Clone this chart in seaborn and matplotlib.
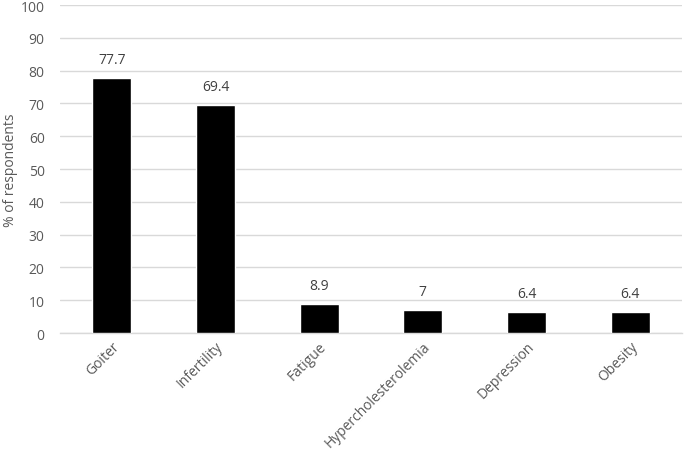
import pandas as pd
import numpy as np
import seaborn as sns
import matplotlib.pyplot as plt
from matplotlib.ticker import FixedLocator

# 数据
conditions = ['Goiter', 'Infertility', 'Fatigue', 'Hypercholesterolemia', 'Depression', 'Obesity']
percent = [77.7, 69.4, 8.9, 7, 6.4, 6.4]
value_labels = ['77.7', '69.4', '8.9', '7', '6.4', '6.4']
y_ticks = [0, 10, 20, 30, 40, 50, 60, 70, 80, 90, 100]

df = pd.DataFrame({'Condition': conditions, 'Percent': percent})

sns.set_style('white')
plt.rcParams['font.family'] = ['Open Sans', 'DejaVu Sans']
txt = '#595959'
grid = '#d9d9d9'
fs = 10

fig = plt.figure(figsize=(6.85, 4.56), dpi=100)
ax = fig.add_axes([0.0876, 0.2675, 0.908, 0.7193])

sns.barplot(data=df, x='Condition', y='Percent', color='black', width=0.375,
            saturation=1, ax=ax, zorder=3)

ax.set_ylim(0, 100)
ax.set_xlim(-0.5, len(conditions) - 0.5)
ax.set_yticks(y_ticks)
ax.yaxis.grid(True, color=grid, linewidth=1, zorder=0)
ax.set_axisbelow(True)

for p, lab in zip(ax.patches, value_labels):
    ax.annotate(lab, (p.get_x() + p.get_width() / 2, p.get_height()),
                xytext=(0, 8), textcoords='offset points', ha='center', va='bottom',
                fontsize=fs, color='#404040')

for s in ['left', 'right', 'top']:
    ax.spines[s].set_visible(False)
ax.spines['bottom'].set_color(grid)
ax.spines['bottom'].set_linewidth(1)

ax.tick_params(axis='y', length=0, labelsize=fs, labelcolor=txt, pad=11)
ax.tick_params(axis='x', which='major', length=0, labelsize=fs, labelcolor=txt, pad=4)
ax.xaxis.set_minor_locator(FixedLocator(np.arange(-0.5, len(conditions), 1)))
ax.tick_params(axis='x', which='minor', length=5, color=grid, width=1)
plt.setp(ax.get_xticklabels(), rotation=45, ha='right', rotation_mode='anchor')

ax.set_xlabel('')
ax.set_ylabel('% of respondents', fontsize=fs, color=txt)
ax.yaxis.set_label_coords(-0.068, 0.5)

plt.savefig('out.png', dpi=100)
